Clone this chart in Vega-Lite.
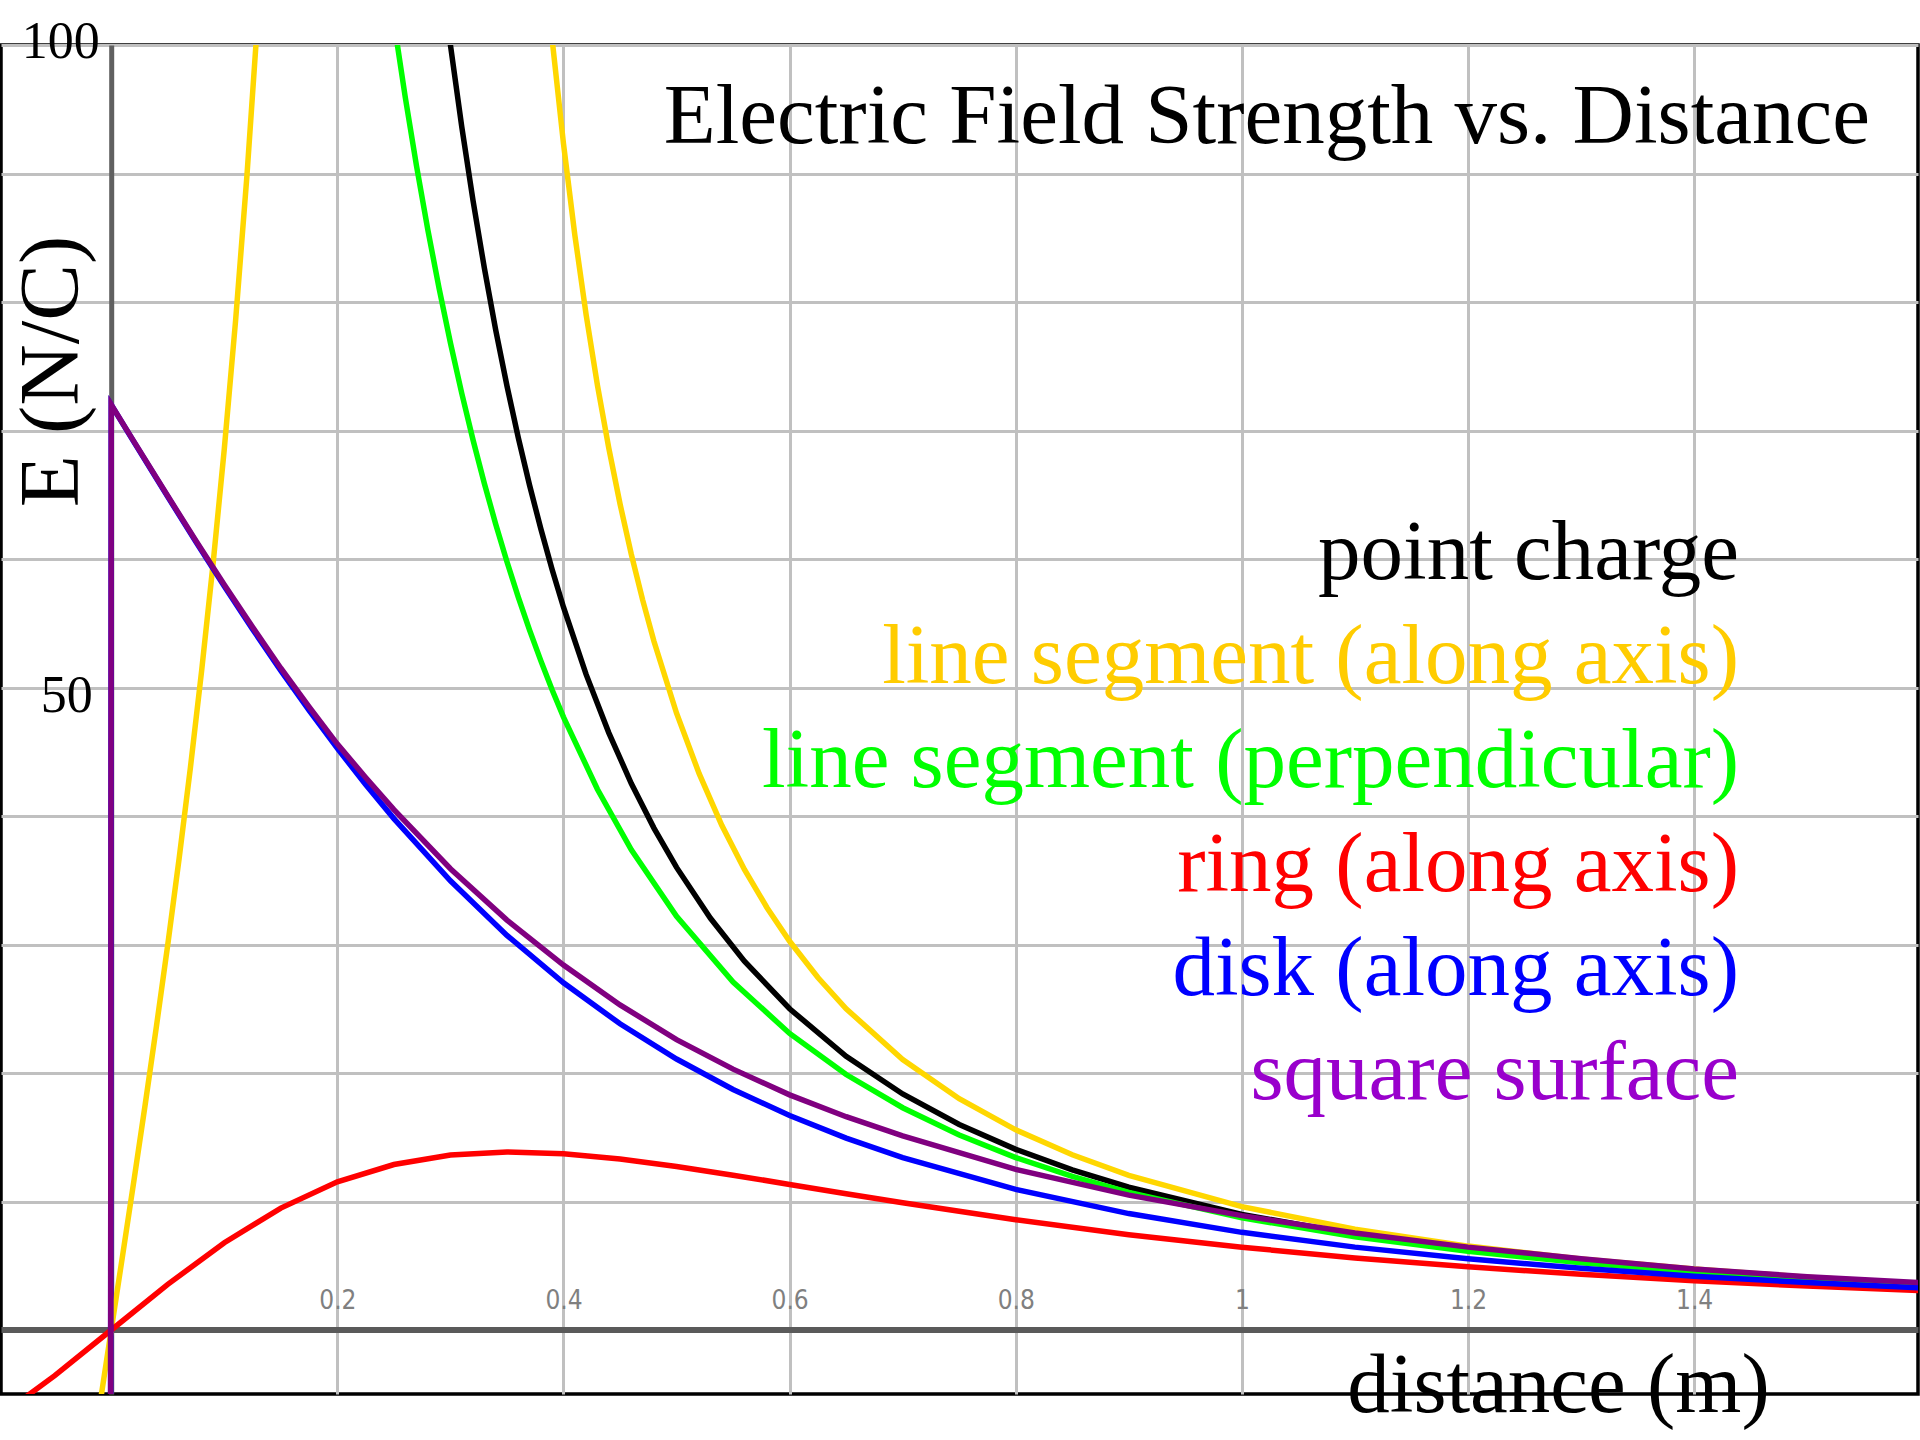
{
  "$schema": "https://vega.github.io/schema/vega-lite/v6.json",
  "width": 1917,
  "height": 1349,
  "autosize": "none",
  "padding": {"left": 1, "top": 45, "right": 2, "bottom": 46},
  "background": "white",
  "config": {
    "view": {"stroke": "#000000", "strokeWidth": 3.5},
    "font": "Liberation Serif"
  },
  "title": {
    "text": "Electric Field Strength vs. Distance",
    "anchor": "end",
    "frame": "group",
    "orient": "top",
    "font": "Liberation Serif",
    "fontSize": 85,
    "fontWeight": "normal",
    "color": "#000000",
    "baseline": "alphabetic",
    "offset": 0,
    "dx": -48,
    "dy": 212
  },
  "data": {
    "values": [
      {"series": "point charge", "branch": "a", "distance": 0.29, "E": 107.0},
      {"series": "point charge", "branch": "a", "distance": 0.30, "E": 100},
      {"series": "point charge", "branch": "a", "distance": 0.31, "E": 93.65},
      {"series": "point charge", "branch": "a", "distance": 0.32, "E": 87.89},
      {"series": "point charge", "branch": "a", "distance": 0.33, "E": 82.64},
      {"series": "point charge", "branch": "a", "distance": 0.34, "E": 77.85},
      {"series": "point charge", "branch": "a", "distance": 0.35, "E": 73.47},
      {"series": "point charge", "branch": "a", "distance": 0.36, "E": 69.44},
      {"series": "point charge", "branch": "a", "distance": 0.37, "E": 65.74},
      {"series": "point charge", "branch": "a", "distance": 0.38, "E": 62.33},
      {"series": "point charge", "branch": "a", "distance": 0.39, "E": 59.17},
      {"series": "point charge", "branch": "a", "distance": 0.40, "E": 56.25},
      {"series": "point charge", "branch": "a", "distance": 0.42, "E": 51.02},
      {"series": "point charge", "branch": "a", "distance": 0.44, "E": 46.49},
      {"series": "point charge", "branch": "a", "distance": 0.46, "E": 42.53},
      {"series": "point charge", "branch": "a", "distance": 0.48, "E": 39.06},
      {"series": "point charge", "branch": "a", "distance": 0.50, "E": 36.0},
      {"series": "point charge", "branch": "a", "distance": 0.53, "E": 32.04},
      {"series": "point charge", "branch": "a", "distance": 0.56, "E": 28.70},
      {"series": "point charge", "branch": "a", "distance": 0.60, "E": 25.0},
      {"series": "point charge", "branch": "a", "distance": 0.65, "E": 21.30},
      {"series": "point charge", "branch": "a", "distance": 0.70, "E": 18.37},
      {"series": "point charge", "branch": "a", "distance": 0.75, "E": 16.0},
      {"series": "point charge", "branch": "a", "distance": 0.80, "E": 14.06},
      {"series": "point charge", "branch": "a", "distance": 0.85, "E": 12.46},
      {"series": "point charge", "branch": "a", "distance": 0.90, "E": 11.11},
      {"series": "point charge", "branch": "a", "distance": 1.00, "E": 9.0},
      {"series": "point charge", "branch": "a", "distance": 1.10, "E": 7.44},
      {"series": "point charge", "branch": "a", "distance": 1.20, "E": 6.25},
      {"series": "point charge", "branch": "a", "distance": 1.30, "E": 5.33},
      {"series": "point charge", "branch": "a", "distance": 1.40, "E": 4.59},
      {"series": "point charge", "branch": "a", "distance": 1.50, "E": 4.0},
      {"series": "point charge", "branch": "a", "distance": 1.60, "E": 3.52},

      {"series": "line segment (along axis)", "branch": "inner", "distance": -0.02, "E": -11.59},
      {"series": "line segment (along axis)", "branch": "inner", "distance": -0.01, "E": -5.77},
      {"series": "line segment (along axis)", "branch": "inner", "distance": 0.0, "E": 0.0},
      {"series": "line segment (along axis)", "branch": "inner", "distance": 0.01, "E": 5.77},
      {"series": "line segment (along axis)", "branch": "inner", "distance": 0.02, "E": 11.59},
      {"series": "line segment (along axis)", "branch": "inner", "distance": 0.03, "E": 17.53},
      {"series": "line segment (along axis)", "branch": "inner", "distance": 0.04, "E": 23.65},
      {"series": "line segment (along axis)", "branch": "inner", "distance": 0.05, "E": 30.0},
      {"series": "line segment (along axis)", "branch": "inner", "distance": 0.06, "E": 36.67},
      {"series": "line segment (along axis)", "branch": "inner", "distance": 0.07, "E": 43.75},
      {"series": "line segment (along axis)", "branch": "inner", "distance": 0.08, "E": 51.34},
      {"series": "line segment (along axis)", "branch": "inner", "distance": 0.09, "E": 59.56},
      {"series": "line segment (along axis)", "branch": "inner", "distance": 0.10, "E": 68.57},
      {"series": "line segment (along axis)", "branch": "inner", "distance": 0.11, "E": 78.57},
      {"series": "line segment (along axis)", "branch": "inner", "distance": 0.12, "E": 89.81},
      {"series": "line segment (along axis)", "branch": "inner", "distance": 0.13, "E": 102.6},
      {"series": "line segment (along axis)", "branch": "inner", "distance": 0.14, "E": 117.5},
      {"series": "line segment (along axis)", "branch": "outer", "distance": 0.37, "E": 120.97},
      {"series": "line segment (along axis)", "branch": "outer", "distance": 0.38, "E": 109.9},
      {"series": "line segment (along axis)", "branch": "outer", "distance": 0.39, "E": 100.4},
      {"series": "line segment (along axis)", "branch": "outer", "distance": 0.40, "E": 92.31},
      {"series": "line segment (along axis)", "branch": "outer", "distance": 0.41, "E": 85.23},
      {"series": "line segment (along axis)", "branch": "outer", "distance": 0.42, "E": 79.02},
      {"series": "line segment (along axis)", "branch": "outer", "distance": 0.43, "E": 73.53},
      {"series": "line segment (along axis)", "branch": "outer", "distance": 0.44, "E": 68.65},
      {"series": "line segment (along axis)", "branch": "outer", "distance": 0.45, "E": 64.29},
      {"series": "line segment (along axis)", "branch": "outer", "distance": 0.46, "E": 60.36},
      {"series": "line segment (along axis)", "branch": "outer", "distance": 0.47, "E": 56.82},
      {"series": "line segment (along axis)", "branch": "outer", "distance": 0.48, "E": 53.60},
      {"series": "line segment (along axis)", "branch": "outer", "distance": 0.50, "E": 48.0},
      {"series": "line segment (along axis)", "branch": "outer", "distance": 0.52, "E": 43.29},
      {"series": "line segment (along axis)", "branch": "outer", "distance": 0.54, "E": 39.28},
      {"series": "line segment (along axis)", "branch": "outer", "distance": 0.56, "E": 35.84},
      {"series": "line segment (along axis)", "branch": "outer", "distance": 0.58, "E": 32.86},
      {"series": "line segment (along axis)", "branch": "outer", "distance": 0.60, "E": 30.25},
      {"series": "line segment (along axis)", "branch": "outer", "distance": 0.625, "E": 27.43},
      {"series": "line segment (along axis)", "branch": "outer", "distance": 0.65, "E": 25.0},
      {"series": "line segment (along axis)", "branch": "outer", "distance": 0.70, "E": 21.05},
      {"series": "line segment (along axis)", "branch": "outer", "distance": 0.75, "E": 18.0},
      {"series": "line segment (along axis)", "branch": "outer", "distance": 0.80, "E": 15.58},
      {"series": "line segment (along axis)", "branch": "outer", "distance": 0.85, "E": 13.64},
      {"series": "line segment (along axis)", "branch": "outer", "distance": 0.90, "E": 12.04},
      {"series": "line segment (along axis)", "branch": "outer", "distance": 1.00, "E": 9.6},
      {"series": "line segment (along axis)", "branch": "outer", "distance": 1.10, "E": 7.84},
      {"series": "line segment (along axis)", "branch": "outer", "distance": 1.20, "E": 6.53},
      {"series": "line segment (along axis)", "branch": "outer", "distance": 1.30, "E": 5.53},
      {"series": "line segment (along axis)", "branch": "outer", "distance": 1.40, "E": 4.74},
      {"series": "line segment (along axis)", "branch": "outer", "distance": 1.50, "E": 4.11},
      {"series": "line segment (along axis)", "branch": "outer", "distance": 1.60, "E": 3.60},

      {"series": "line segment (perpendicular)", "branch": "a", "distance": 0.24, "E": 108.2},
      {"series": "line segment (perpendicular)", "branch": "a", "distance": 0.25, "E": 101.8},
      {"series": "line segment (perpendicular)", "branch": "a", "distance": 0.26, "E": 95.97},
      {"series": "line segment (perpendicular)", "branch": "a", "distance": 0.27, "E": 90.59},
      {"series": "line segment (perpendicular)", "branch": "a", "distance": 0.28, "E": 85.63},
      {"series": "line segment (perpendicular)", "branch": "a", "distance": 0.29, "E": 81.05},
      {"series": "line segment (perpendicular)", "branch": "a", "distance": 0.30, "E": 76.82},
      {"series": "line segment (perpendicular)", "branch": "a", "distance": 0.31, "E": 72.90},
      {"series": "line segment (perpendicular)", "branch": "a", "distance": 0.32, "E": 69.26},
      {"series": "line segment (perpendicular)", "branch": "a", "distance": 0.33, "E": 65.88},
      {"series": "line segment (perpendicular)", "branch": "a", "distance": 0.34, "E": 62.73},
      {"series": "line segment (perpendicular)", "branch": "a", "distance": 0.35, "E": 59.78},
      {"series": "line segment (perpendicular)", "branch": "a", "distance": 0.36, "E": 57.04},
      {"series": "line segment (perpendicular)", "branch": "a", "distance": 0.37, "E": 54.47},
      {"series": "line segment (perpendicular)", "branch": "a", "distance": 0.38, "E": 52.07},
      {"series": "line segment (perpendicular)", "branch": "a", "distance": 0.39, "E": 49.81},
      {"series": "line segment (perpendicular)", "branch": "a", "distance": 0.40, "E": 47.70},
      {"series": "line segment (perpendicular)", "branch": "a", "distance": 0.43, "E": 42.08},
      {"series": "line segment (perpendicular)", "branch": "a", "distance": 0.46, "E": 37.37},
      {"series": "line segment (perpendicular)", "branch": "a", "distance": 0.50, "E": 32.20},
      {"series": "line segment (perpendicular)", "branch": "a", "distance": 0.55, "E": 27.08},
      {"series": "line segment (perpendicular)", "branch": "a", "distance": 0.60, "E": 23.08},
      {"series": "line segment (perpendicular)", "branch": "a", "distance": 0.65, "E": 19.88},
      {"series": "line segment (perpendicular)", "branch": "a", "distance": 0.70, "E": 17.30},
      {"series": "line segment (perpendicular)", "branch": "a", "distance": 0.75, "E": 15.18},
      {"series": "line segment (perpendicular)", "branch": "a", "distance": 0.80, "E": 13.42},
      {"series": "line segment (perpendicular)", "branch": "a", "distance": 0.85, "E": 11.95},
      {"series": "line segment (perpendicular)", "branch": "a", "distance": 0.90, "E": 10.71},
      {"series": "line segment (perpendicular)", "branch": "a", "distance": 1.00, "E": 8.73},
      {"series": "line segment (perpendicular)", "branch": "a", "distance": 1.10, "E": 7.25},
      {"series": "line segment (perpendicular)", "branch": "a", "distance": 1.20, "E": 6.12},
      {"series": "line segment (perpendicular)", "branch": "a", "distance": 1.30, "E": 5.23},
      {"series": "line segment (perpendicular)", "branch": "a", "distance": 1.40, "E": 4.52},
      {"series": "line segment (perpendicular)", "branch": "a", "distance": 1.50, "E": 3.95},
      {"series": "line segment (perpendicular)", "branch": "a", "distance": 1.60, "E": 3.47},

      {"series": "ring (along axis)", "branch": "a", "distance": -0.10, "E": -6.79},
      {"series": "ring (along axis)", "branch": "a", "distance": -0.05, "E": -3.55},
      {"series": "ring (along axis)", "branch": "a", "distance": 0.0, "E": 0.0},
      {"series": "ring (along axis)", "branch": "a", "distance": 0.05, "E": 3.55},
      {"series": "ring (along axis)", "branch": "a", "distance": 0.10, "E": 6.79},
      {"series": "ring (along axis)", "branch": "a", "distance": 0.15, "E": 9.49},
      {"series": "ring (along axis)", "branch": "a", "distance": 0.20, "E": 11.53},
      {"series": "ring (along axis)", "branch": "a", "distance": 0.25, "E": 12.88},
      {"series": "ring (along axis)", "branch": "a", "distance": 0.30, "E": 13.62},
      {"series": "ring (along axis)", "branch": "a", "distance": 0.35, "E": 13.86},
      {"series": "ring (along axis)", "branch": "a", "distance": 0.40, "E": 13.71},
      {"series": "ring (along axis)", "branch": "a", "distance": 0.45, "E": 13.31},
      {"series": "ring (along axis)", "branch": "a", "distance": 0.50, "E": 12.73},
      {"series": "ring (along axis)", "branch": "a", "distance": 0.55, "E": 12.05},
      {"series": "ring (along axis)", "branch": "a", "distance": 0.60, "E": 11.33},
      {"series": "ring (along axis)", "branch": "a", "distance": 0.65, "E": 10.61},
      {"series": "ring (along axis)", "branch": "a", "distance": 0.70, "E": 9.90},
      {"series": "ring (along axis)", "branch": "a", "distance": 0.80, "E": 8.58},
      {"series": "ring (along axis)", "branch": "a", "distance": 0.90, "E": 7.42},
      {"series": "ring (along axis)", "branch": "a", "distance": 1.00, "E": 6.44},
      {"series": "ring (along axis)", "branch": "a", "distance": 1.10, "E": 5.61},
      {"series": "ring (along axis)", "branch": "a", "distance": 1.20, "E": 4.92},
      {"series": "ring (along axis)", "branch": "a", "distance": 1.30, "E": 4.33},
      {"series": "ring (along axis)", "branch": "a", "distance": 1.40, "E": 3.84},
      {"series": "ring (along axis)", "branch": "a", "distance": 1.50, "E": 3.42},
      {"series": "ring (along axis)", "branch": "a", "distance": 1.60, "E": 3.06},

      {"series": "disk (along axis)", "branch": "a", "distance": -0.10, "E": -57.88},
      {"series": "disk (along axis)", "branch": "a", "distance": -0.001, "E": -71.86},
      {"series": "disk (along axis)", "branch": "a", "distance": 0.0, "E": 72.0},
      {"series": "disk (along axis)", "branch": "a", "distance": 0.02, "E": 69.12},
      {"series": "disk (along axis)", "branch": "a", "distance": 0.05, "E": 64.84},
      {"series": "disk (along axis)", "branch": "a", "distance": 0.075, "E": 61.32},
      {"series": "disk (along axis)", "branch": "a", "distance": 0.10, "E": 57.88},
      {"series": "disk (along axis)", "branch": "a", "distance": 0.125, "E": 54.54},
      {"series": "disk (along axis)", "branch": "a", "distance": 0.15, "E": 51.31},
      {"series": "disk (along axis)", "branch": "a", "distance": 0.175, "E": 48.21},
      {"series": "disk (along axis)", "branch": "a", "distance": 0.20, "E": 45.26},
      {"series": "disk (along axis)", "branch": "a", "distance": 0.225, "E": 42.45},
      {"series": "disk (along axis)", "branch": "a", "distance": 0.25, "E": 39.80},
      {"series": "disk (along axis)", "branch": "a", "distance": 0.30, "E": 34.96},
      {"series": "disk (along axis)", "branch": "a", "distance": 0.35, "E": 30.71},
      {"series": "disk (along axis)", "branch": "a", "distance": 0.40, "E": 27.02},
      {"series": "disk (along axis)", "branch": "a", "distance": 0.45, "E": 23.83},
      {"series": "disk (along axis)", "branch": "a", "distance": 0.50, "E": 21.09},
      {"series": "disk (along axis)", "branch": "a", "distance": 0.55, "E": 18.72},
      {"series": "disk (along axis)", "branch": "a", "distance": 0.60, "E": 16.69},
      {"series": "disk (along axis)", "branch": "a", "distance": 0.65, "E": 14.93},
      {"series": "disk (along axis)", "branch": "a", "distance": 0.70, "E": 13.41},
      {"series": "disk (along axis)", "branch": "a", "distance": 0.80, "E": 10.94},
      {"series": "disk (along axis)", "branch": "a", "distance": 0.90, "E": 9.06},
      {"series": "disk (along axis)", "branch": "a", "distance": 1.00, "E": 7.60},
      {"series": "disk (along axis)", "branch": "a", "distance": 1.10, "E": 6.45},
      {"series": "disk (along axis)", "branch": "a", "distance": 1.20, "E": 5.54},
      {"series": "disk (along axis)", "branch": "a", "distance": 1.30, "E": 4.80},
      {"series": "disk (along axis)", "branch": "a", "distance": 1.40, "E": 4.19},
      {"series": "disk (along axis)", "branch": "a", "distance": 1.50, "E": 3.69},
      {"series": "disk (along axis)", "branch": "a", "distance": 1.60, "E": 3.28},

      {"series": "square surface", "branch": "a", "distance": -0.10, "E": -58.0},
      {"series": "square surface", "branch": "a", "distance": -0.001, "E": -71.9},
      {"series": "square surface", "branch": "a", "distance": 0.0, "E": 72.0},
      {"series": "square surface", "branch": "a", "distance": 0.02, "E": 69.15},
      {"series": "square surface", "branch": "a", "distance": 0.05, "E": 64.9},
      {"series": "square surface", "branch": "a", "distance": 0.075, "E": 61.4},
      {"series": "square surface", "branch": "a", "distance": 0.10, "E": 58.0},
      {"series": "square surface", "branch": "a", "distance": 0.125, "E": 54.7},
      {"series": "square surface", "branch": "a", "distance": 0.15, "E": 51.5},
      {"series": "square surface", "branch": "a", "distance": 0.175, "E": 48.5},
      {"series": "square surface", "branch": "a", "distance": 0.20, "E": 45.6},
      {"series": "square surface", "branch": "a", "distance": 0.225, "E": 43.0},
      {"series": "square surface", "branch": "a", "distance": 0.25, "E": 40.5},
      {"series": "square surface", "branch": "a", "distance": 0.30, "E": 35.9},
      {"series": "square surface", "branch": "a", "distance": 0.35, "E": 31.9},
      {"series": "square surface", "branch": "a", "distance": 0.40, "E": 28.4},
      {"series": "square surface", "branch": "a", "distance": 0.45, "E": 25.3},
      {"series": "square surface", "branch": "a", "distance": 0.50, "E": 22.6},
      {"series": "square surface", "branch": "a", "distance": 0.55, "E": 20.3},
      {"series": "square surface", "branch": "a", "distance": 0.60, "E": 18.3},
      {"series": "square surface", "branch": "a", "distance": 0.65, "E": 16.6},
      {"series": "square surface", "branch": "a", "distance": 0.70, "E": 15.1},
      {"series": "square surface", "branch": "a", "distance": 0.80, "E": 12.5},
      {"series": "square surface", "branch": "a", "distance": 0.90, "E": 10.5},
      {"series": "square surface", "branch": "a", "distance": 1.00, "E": 8.9},
      {"series": "square surface", "branch": "a", "distance": 1.10, "E": 7.55},
      {"series": "square surface", "branch": "a", "distance": 1.20, "E": 6.45},
      {"series": "square surface", "branch": "a", "distance": 1.30, "E": 5.55},
      {"series": "square surface", "branch": "a", "distance": 1.40, "E": 4.75},
      {"series": "square surface", "branch": "a", "distance": 1.50, "E": 4.15},
      {"series": "square surface", "branch": "a", "distance": 1.60, "E": 3.68}
    ]
  },
  "mark": {"type": "line", "strokeWidth": 5.5, "clip": true, "interpolate": "linear"},
  "encoding": {
    "x": {
      "field": "distance",
      "type": "quantitative",
      "scale": {"domain": [-0.0975, 1.598], "nice": false, "zero": false},
      "axis": {
        "orient": "top",
        "offset": -1284.6,
        "values": [0.2, 0.4, 0.6, 0.8, 1.0, 1.2, 1.4],
        "labelExpr": "format(datum.value, '.1~f')",
        "grid": true,
        "gridColor": "#c0c0c0",
        "gridWidth": 3,
        "domain": true,
        "domainColor": "#5a5a5a",
        "domainWidth": 6,
        "ticks": false,
        "tickSize": 0,
        "labelFont": "Liberation Sans Narrow, DejaVu Sans Condensed, sans-serif",
        "labelFontSize": 26,
        "labelColor": "#808080",
        "labelBaseline": "alphabetic",
        "labelPadding": 21,
        "labelFlush": false,
        "labelOverlap": false,
        "title": "distance (m)",
        "titleFont": "Liberation Serif",
        "titleFontSize": 85,
        "titleFontWeight": "normal",
        "titleColor": "#000000",
        "titleX": 1557,
        "titleY": 82,
        "titleAlign": "center",
        "titleBaseline": "alphabetic",
        "titleAngle": 0
      }
    },
    "y": {
      "field": "E",
      "type": "quantitative",
      "scale": {"domain": [-4.98, 100], "nice": false, "zero": false},
      "axis": {
        "orient": "left",
        "offset": -110.2,
        "values": [10, 20, 30, 40, 50, 60, 70, 80, 90, 100],
        "labelExpr": "datum.value == 50 || datum.value == 100 ? datum.label : ''",
        "grid": true,
        "gridColor": "#c0c0c0",
        "gridWidth": 3,
        "domain": true,
        "domainColor": "#606060",
        "domainWidth": 5,
        "ticks": false,
        "tickSize": 0,
        "labelFont": "Liberation Serif",
        "labelFontSize": 52,
        "labelColor": "#000000",
        "labelAlign": "right",
        "labelBaseline": "middle",
        "labelPadding": {"condition": {"test": "datum.value == 100", "value": 12}, "value": 19},
        "labelOffset": {"condition": {"test": "datum.value == 100", "value": -3.5}, "value": 8},
        "labelFlush": false,
        "labelOverlap": false,
        "title": "E (N/C)",
        "titleFont": "Liberation Serif",
        "titleFontSize": 85,
        "titleFontWeight": "normal",
        "titleColor": "#000000",
        "titleX": -34,
        "titleY": 326,
        "titleAlign": "center",
        "titleBaseline": "alphabetic",
        "titleAngle": 270
      }
    },
    "color": {
      "field": "series",
      "type": "nominal",
      "scale": {
        "domain": ["point charge", "line segment (along axis)", "line segment (perpendicular)", "ring (along axis)", "disk (along axis)", "square surface"],
        "range": ["#000000", "#FFD700", "#00FF00", "#FF0000", "#0000FF", "#800080"]
      },
      "legend": {
        "orient": "none",
        "legendX": 1653,
        "legendY": 465,
        "direction": "vertical",
        "title": null,
        "padding": 0,
        "symbolOpacity": 0,
        "symbolSize": 0,
        "symbolStrokeWidth": 0,
        "labelOffset": 0,
        "labelAlign": "right",
        "labelFont": "Liberation Serif",
        "labelFontSize": 85,
        "labelLimit": 3000,
        "rowPadding": 18,
        "encode": {
          "labels": {
            "update": {
              "fill": {"signal": "datum.value === 'point charge' ? '#000000' : datum.value === 'line segment (along axis)' ? '#FFCC00' : datum.value === 'line segment (perpendicular)' ? '#00FF00' : datum.value === 'ring (along axis)' ? '#FF0000' : datum.value === 'disk (along axis)' ? '#0000FF' : '#9900CC'"}
            }
          }
        }
      }
    },
    "detail": {"field": "branch", "type": "nominal"}
  }
}
